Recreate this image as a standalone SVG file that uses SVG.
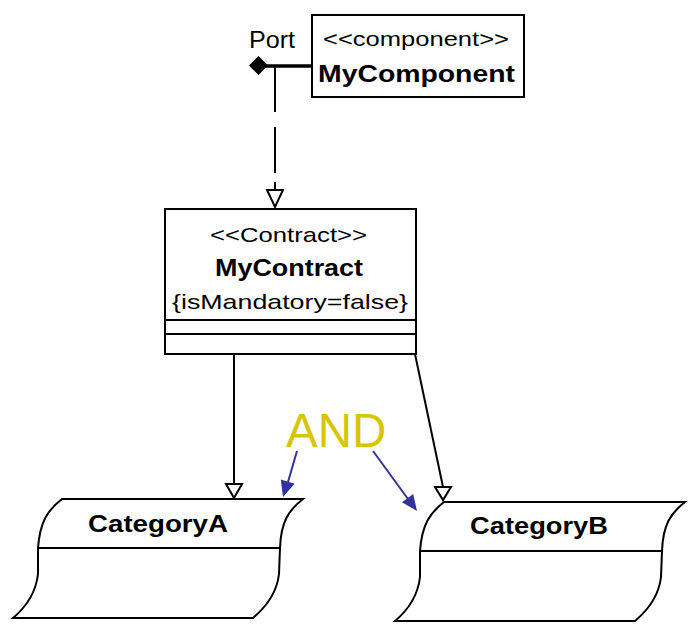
<svg xmlns="http://www.w3.org/2000/svg" width="691" height="628" viewBox="0 0 691 628">
  <style>
    .box { fill: #ffffff; stroke: #000000; stroke-width: 2; }
    .ln { fill: none; stroke: #000000; stroke-width: 2; }
    .tri { fill: #ffffff; stroke: #000000; stroke-width: 2; }
    .t { font-family: "Liberation Sans", Arial, sans-serif; fill: #000000; text-anchor: start; }
    .b { font-weight: bold; }
    .note { font-family: "Liberation Sans", Arial, sans-serif; fill: #d8c400; font-size: 47.5px; }
    .blue { fill: none; stroke: #33339c; stroke-width: 2; }
    .bluehead { fill: #33339c; stroke: none; }
  </style>
  <defs>
    <!-- skewed "category" sheet outline: top edge, wavy sides, bottom edge -->
    <path id="sheet" d="M62,499 L303,499 C289,510 281,521 280,548 L279,574 C277,592 266,607 253,618 L13,618 C26,607 36,592 38,574 L38,548 C40,521 48,510 62,499 Z"/>
  </defs>

  <rect width="691" height="628" fill="#ffffff"/>

  <!-- connectors -->
  <g id="connectors">
    <!-- port attachment -->
    <line x1="258" y1="66" x2="312" y2="66" stroke="#000" stroke-width="3.5"/>
    <!-- port realizes contract (dashed) -->
    <line x1="275" y1="66" x2="275" y2="190" class="ln" stroke-dasharray="46 15"/>
    <line x1="275" y1="182" x2="275" y2="190" class="ln"/>
    <path class="tri" d="M267,190 L283,190 L275,207 Z"/>
    <!-- contract to categories -->
    <line x1="234" y1="354" x2="234" y2="484" class="ln"/>
    <path class="tri" d="M226,484 L242,484 L234,498 Z"/>
    <line x1="415" y1="354" x2="443" y2="487" class="ln"/>
    <path class="tri" d="M435,487 L451,487 L443,500 Z"/>
    <!-- AND annotation pointers -->
    <line x1="297" y1="451" x2="288" y2="482" class="blue"/>
    <path class="bluehead" d="M283,497 L294.6,483.8 L280.8,479.6 Z"/>
    <line x1="373" y1="451" x2="408" y2="499" class="blue"/>
    <path class="bluehead" d="M417,511 L401.9,502.2 L413.2,494 Z"/>
  </g>

  <!-- port -->
  <g id="port">
    <path d="M258.5,56 L268,65.5 L258.5,75 L249,65.5 Z" fill="#000"/>
    <text class="t" x="249" y="48" font-size="23" textLength="46" lengthAdjust="spacingAndGlyphs">Port</text>
  </g>

  <!-- component -->
  <g id="MyComponent">
    <rect class="box" x="312" y="15" width="212" height="82"/>
    <text class="t" x="323" y="46" font-size="20" textLength="186" lengthAdjust="spacingAndGlyphs">&lt;&lt;component&gt;&gt;</text>
    <text class="t b" x="318" y="82" font-size="23" textLength="197" lengthAdjust="spacingAndGlyphs">MyComponent</text>
  </g>

  <!-- contract -->
  <g id="MyContract">
    <rect class="box" x="165" y="209" width="251" height="145"/>
    <line class="ln" x1="165" y1="320" x2="416" y2="320"/>
    <line class="ln" x1="165" y1="334" x2="416" y2="334"/>
    <text class="t" x="210" y="242" font-size="21" textLength="157" lengthAdjust="spacingAndGlyphs">&lt;&lt;Contract&gt;&gt;</text>
    <text class="t b" x="215" y="276" font-size="24" textLength="148" lengthAdjust="spacingAndGlyphs">MyContract</text>
    <text class="t" x="172" y="309" font-size="21" textLength="236" lengthAdjust="spacingAndGlyphs">{isMandatory=false}</text>
  </g>

  <!-- category A -->
  <g id="CategoryA">
    <use href="#sheet" class="box"/>
    <line class="ln" x1="38" y1="548" x2="280" y2="548"/>
    <text class="t b" x="88" y="532" font-size="24" textLength="140" lengthAdjust="spacingAndGlyphs">CategoryA</text>
  </g>

  <!-- category B -->
  <g id="CategoryB">
    <use href="#sheet" class="box" transform="translate(382,3)"/>
    <line class="ln" x1="420" y1="551" x2="662" y2="551"/>
    <text class="t b" x="470" y="534" font-size="24" textLength="138" lengthAdjust="spacingAndGlyphs">CategoryB</text>
  </g>

  <!-- annotation -->
  <g id="AND">
    <text class="note" x="286" y="447">AND</text>
  </g>
</svg>
